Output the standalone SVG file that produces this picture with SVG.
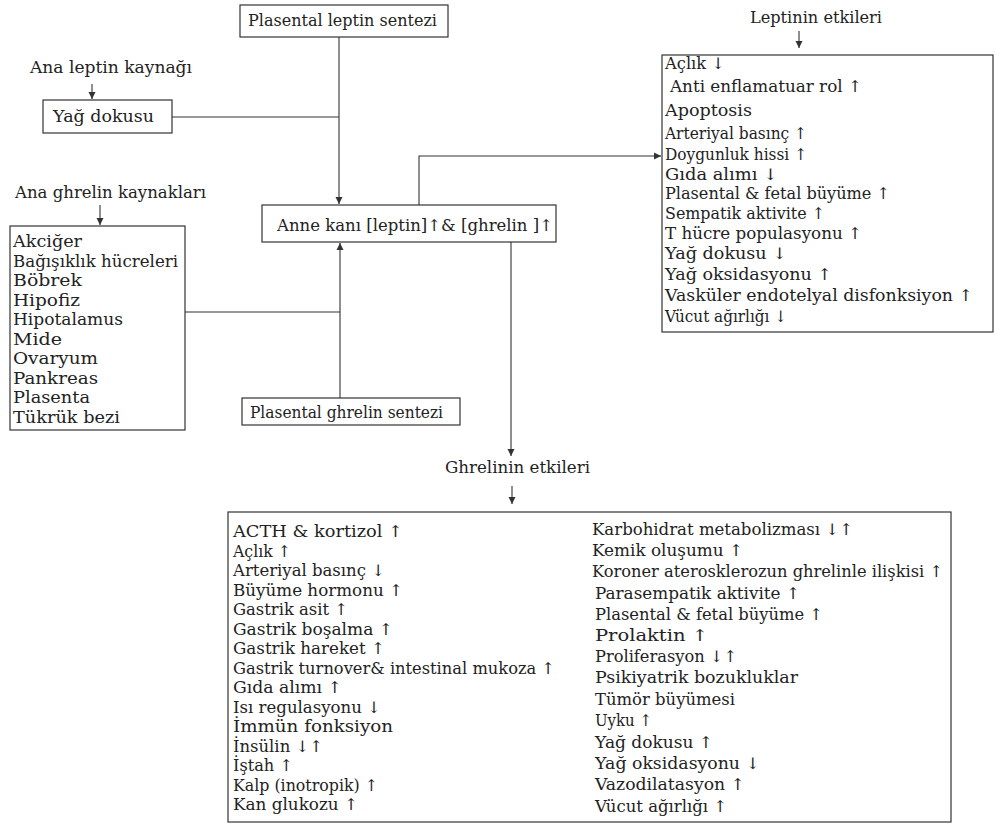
<svg xmlns="http://www.w3.org/2000/svg" width="996" height="825" viewBox="0 0 996 825">
<style>
.box{fill:#fff;stroke:#333;stroke-width:1.2}
.t{font-family:"DejaVu Serif","Liberation Serif",serif;font-size:16px;fill:#222}
.c{fill:none;stroke:#333;stroke-width:1.1}
</style>
<defs>
<marker id="ah" markerUnits="userSpaceOnUse" markerWidth="8" markerHeight="8" refX="7" refY="4" orient="auto">
<path d="M0,0.5 L7,4 L0,7.5 z" fill="#333"/>
</marker>
</defs>
<rect width="996" height="825" fill="#fff"/>

<g id="connectors">
<line class="c" x1="339" y1="37" x2="339" y2="204" marker-end="url(#ah)"/>
<line class="c" x1="172" y1="117" x2="339" y2="117"/>
<line class="c" x1="185" y1="312" x2="340" y2="312"/>
<line class="c" x1="340" y1="398" x2="340" y2="243" marker-end="url(#ah)"/>
<polyline class="c" points="419,205 419,156 661,156" marker-end="url(#ah)"/>
<line class="c" x1="511" y1="242" x2="511" y2="456" marker-end="url(#ah)"/>
<line class="c" x1="92" y1="84" x2="92" y2="99" marker-end="url(#ah)"/>
<line class="c" x1="100" y1="205" x2="100" y2="225" marker-end="url(#ah)"/>
<line class="c" x1="799" y1="31" x2="799" y2="48" marker-end="url(#ah)"/>
<line class="c" x1="512" y1="486" x2="512" y2="504" marker-end="url(#ah)"/>
</g>

<g id="plasental-leptin">
<rect class="box" x="240" y="5" width="208" height="32"/>
<text class="t" x="248" y="26" textLength="189" lengthAdjust="spacingAndGlyphs">Plasental leptin sentezi</text>
</g>

<g id="ana-leptin-label">
<text class="t" x="30" y="73" textLength="162" lengthAdjust="spacingAndGlyphs">Ana leptin kaynağı</text>
</g>

<g id="yag-dokusu">
<rect class="box" x="43" y="100" width="129" height="33"/>
<text class="t" x="53" y="122" textLength="101" lengthAdjust="spacingAndGlyphs">Yağ dokusu</text>
</g>

<g id="ana-ghrelin-label">
<text class="t" x="15" y="198" textLength="191" lengthAdjust="spacingAndGlyphs">Ana ghrelin kaynakları</text>
</g>

<g id="ghrelin-sources">
<rect class="box" x="10" y="226" width="175" height="204"/>
<text class="t" x="13" y="247" textLength="69" lengthAdjust="spacingAndGlyphs">Akciğer</text>
<text class="t" x="13" y="266.5" textLength="165" lengthAdjust="spacingAndGlyphs">Bağışıklık hücreleri</text>
<text class="t" x="13" y="286" textLength="69" lengthAdjust="spacingAndGlyphs">Böbrek</text>
<text class="t" x="13" y="305.5" textLength="67" lengthAdjust="spacingAndGlyphs">Hipofiz</text>
<text class="t" x="13" y="325" textLength="110" lengthAdjust="spacingAndGlyphs">Hipotalamus</text>
<text class="t" x="13" y="344.5" textLength="49" lengthAdjust="spacingAndGlyphs">Mide</text>
<text class="t" x="13" y="364" textLength="85" lengthAdjust="spacingAndGlyphs">Ovaryum</text>
<text class="t" x="13" y="383.5" textLength="85" lengthAdjust="spacingAndGlyphs">Pankreas</text>
<text class="t" x="13" y="403" textLength="77" lengthAdjust="spacingAndGlyphs">Plasenta</text>
<text class="t" x="13" y="422.5" textLength="107" lengthAdjust="spacingAndGlyphs">Tükrük bezi</text>
</g>

<g id="anne-kani">
<rect class="box" x="262" y="205" width="294" height="37"/>
<text class="t" x="277" y="231" textLength="276" lengthAdjust="spacingAndGlyphs">Anne kanı [leptin]↑&amp; [ghrelin ]↑</text>
</g>

<g id="plasental-ghrelin">
<rect class="box" x="242" y="398" width="218" height="27"/>
<text class="t" x="250" y="418" textLength="193" lengthAdjust="spacingAndGlyphs">Plasental ghrelin sentezi</text>
</g>

<g id="leptin-effects-label">
<text class="t" x="750" y="23" textLength="132" lengthAdjust="spacingAndGlyphs">Leptinin etkileri</text>
</g>

<g id="leptin-effects">
<rect class="box" x="662" y="55" width="331" height="277"/>
<text class="t" x="665" y="69" textLength="60" lengthAdjust="spacingAndGlyphs">Açlık ↓</text>
<text class="t" x="670" y="92" textLength="192" lengthAdjust="spacingAndGlyphs">Anti enflamatuar rol ↑</text>
<text class="t" x="665" y="116" textLength="87" lengthAdjust="spacingAndGlyphs">Apoptosis</text>
<text class="t" x="665" y="139" textLength="142" lengthAdjust="spacingAndGlyphs">Arteriyal basınç ↑</text>
<text class="t" x="665" y="160" textLength="142" lengthAdjust="spacingAndGlyphs">Doygunluk hissi ↑</text>
<text class="t" x="665" y="179.5" textLength="113" lengthAdjust="spacingAndGlyphs">Gıda alımı ↓</text>
<text class="t" x="665" y="199" textLength="225" lengthAdjust="spacingAndGlyphs">Plasental &amp; fetal büyüme ↑</text>
<text class="t" x="665" y="219" textLength="160" lengthAdjust="spacingAndGlyphs">Sempatik aktivite ↑</text>
<text class="t" x="665" y="239" textLength="197" lengthAdjust="spacingAndGlyphs">T hücre populasyonu ↑</text>
<text class="t" x="665" y="259" textLength="122" lengthAdjust="spacingAndGlyphs">Yağ dokusu ↓</text>
<text class="t" x="665" y="280" textLength="167" lengthAdjust="spacingAndGlyphs">Yağ oksidasyonu ↑</text>
<text class="t" x="665" y="301" textLength="308" lengthAdjust="spacingAndGlyphs">Vasküler endotelyal disfonksiyon ↑</text>
<text class="t" x="665" y="322" textLength="122" lengthAdjust="spacingAndGlyphs">Vücut ağırlığı ↓</text>
</g>

<g id="ghrelin-effects-label">
<text class="t" x="445" y="473" textLength="145" lengthAdjust="spacingAndGlyphs">Ghrelinin etkileri</text>
</g>

<g id="ghrelin-effects">
<rect class="box" x="228" y="512" width="723" height="310"/>
<text class="t" x="233" y="537" textLength="170" lengthAdjust="spacingAndGlyphs">ACTH &amp; kortizol ↑</text>
<text class="t" x="233" y="556.5" textLength="58" lengthAdjust="spacingAndGlyphs">Açlık ↑</text>
<text class="t" x="233" y="576" textLength="152" lengthAdjust="spacingAndGlyphs">Arteriyal basınç ↓</text>
<text class="t" x="233" y="595.5" textLength="170" lengthAdjust="spacingAndGlyphs">Büyüme hormonu ↑</text>
<text class="t" x="233" y="615" textLength="115" lengthAdjust="spacingAndGlyphs">Gastrik asit ↑</text>
<text class="t" x="233" y="634.5" textLength="160" lengthAdjust="spacingAndGlyphs">Gastrik boşalma ↑</text>
<text class="t" x="233" y="654" textLength="152" lengthAdjust="spacingAndGlyphs">Gastrik hareket ↑</text>
<text class="t" x="233" y="673.5" textLength="322" lengthAdjust="spacingAndGlyphs">Gastrik turnover&amp; intestinal mukoza ↑</text>
<text class="t" x="233" y="693" textLength="109" lengthAdjust="spacingAndGlyphs">Gıda alımı ↑</text>
<text class="t" x="233" y="712.5" textLength="148" lengthAdjust="spacingAndGlyphs">Isı regulasyonu ↓</text>
<text class="t" x="233" y="732" textLength="160" lengthAdjust="spacingAndGlyphs">İmmün fonksiyon</text>
<text class="t" x="233" y="751.5" textLength="90" lengthAdjust="spacingAndGlyphs">İnsülin ↓↑</text>
<text class="t" x="233" y="771" textLength="60" lengthAdjust="spacingAndGlyphs">İştah ↑</text>
<text class="t" x="233" y="790.5" textLength="145" lengthAdjust="spacingAndGlyphs">Kalp (inotropik) ↑</text>
<text class="t" x="233" y="810" textLength="125" lengthAdjust="spacingAndGlyphs">Kan glukozu ↑</text>

<text class="t" x="592" y="535" textLength="261" lengthAdjust="spacingAndGlyphs">Karbohidrat metabolizması ↓↑</text>
<text class="t" x="592" y="556" textLength="151" lengthAdjust="spacingAndGlyphs">Kemik oluşumu ↑</text>
<text class="t" x="592" y="577" textLength="351" lengthAdjust="spacingAndGlyphs">Koroner aterosklerozun ghrelinle ilişkisi ↑</text>
<text class="t" x="595" y="599" textLength="205" lengthAdjust="spacingAndGlyphs">Parasempatik aktivite ↑</text>
<text class="t" x="595" y="620" textLength="228" lengthAdjust="spacingAndGlyphs">Plasental &amp; fetal büyüme ↑</text>
<text class="t" x="595" y="641" textLength="113" lengthAdjust="spacingAndGlyphs">Prolaktin ↑</text>
<text class="t" x="595" y="662" textLength="142" lengthAdjust="spacingAndGlyphs">Proliferasyon ↓↑</text>
<text class="t" x="595" y="683" textLength="203" lengthAdjust="spacingAndGlyphs">Psikiyatrik bozukluklar</text>
<text class="t" x="595" y="705" textLength="140" lengthAdjust="spacingAndGlyphs">Tümör büyümesi</text>
<text class="t" x="595" y="726" textLength="57" lengthAdjust="spacingAndGlyphs">Uyku ↑</text>
<text class="t" x="595" y="748" textLength="118" lengthAdjust="spacingAndGlyphs">Yağ dokusu ↑</text>
<text class="t" x="595" y="769" textLength="165" lengthAdjust="spacingAndGlyphs">Yağ oksidasyonu ↓</text>
<text class="t" x="595" y="790" textLength="150" lengthAdjust="spacingAndGlyphs">Vazodilatasyon ↑</text>
<text class="t" x="595" y="812" textLength="132" lengthAdjust="spacingAndGlyphs">Vücut ağırlığı ↑</text>
</g>
</svg>
